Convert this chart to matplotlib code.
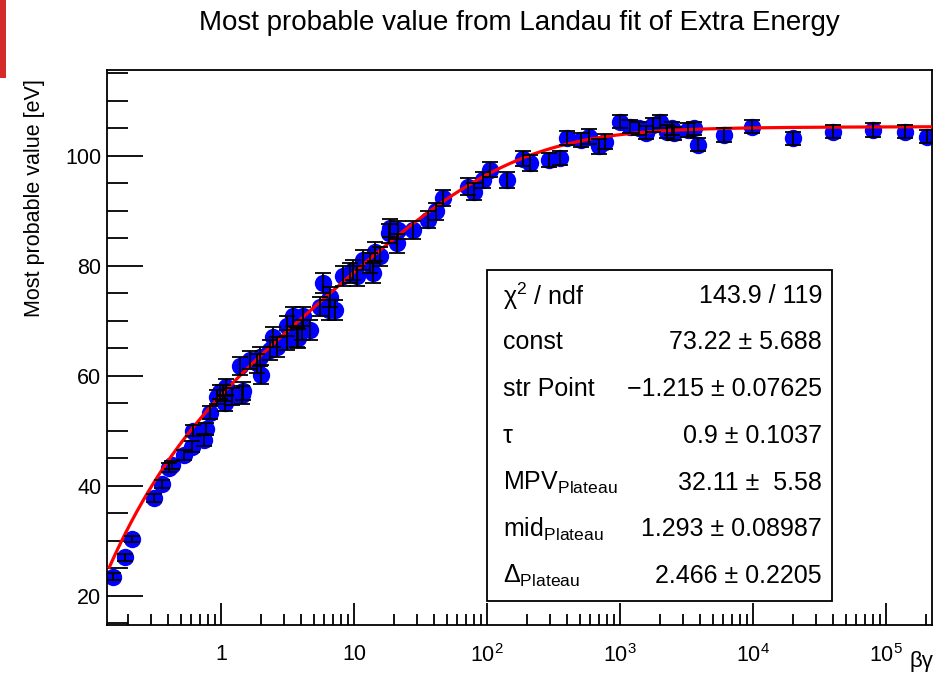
import numpy as np
import matplotlib
matplotlib.use("Agg")
import matplotlib.pyplot as plt
from matplotlib.patches import Rectangle
from matplotlib.ticker import FixedLocator, NullFormatter, FixedFormatter
from math import erf

plt.rcParams['font.family'] = ['Liberation Sans', 'DejaVu Sans']
plt.rcParams['mathtext.fontset'] = 'custom'
plt.rcParams['mathtext.rm'] = 'Liberation Sans'
plt.rcParams['mathtext.it'] = 'Liberation Sans:italic'
plt.rcParams['mathtext.bf'] = 'Liberation Sans:bold'

# ---- measured points: beta*gamma, most probable value [eV], error ----
beta_gamma = [
    0.155, 0.190, 0.213, 0.316, 0.363, 0.407, 0.427, 0.525, 0.603, 0.617,
    0.741, 0.776, 0.826, 0.933, 0.982, 1.04, 1.07, 1.10, 1.20, 1.39,
    1.43, 1.47, 1.65, 1.85, 1.95, 2.00, 2.33, 2.45, 2.63, 3.12,
    3.16, 3.50, 3.72, 3.80, 4.05, 4.17, 4.68, 5.55, 5.89, 6.46,
    6.61, 7.20, 8.32, 9.33, 9.89, 10.5, 11.7, 13.2, 14.0, 14.4,
    15.7, 18.2, 18.6, 20.9, 21.5, 27.9, 36.3, 41.7, 46.8, 72.4,
    79.4, 93.3, 105, 141, 186, 209, 295, 355, 398, 513,
    589, 692, 776, 1000, 1190, 1380, 1580, 1780, 2000, 2240,
    2450, 2570, 3240, 3630, 3890, 6030, 9770, 20000, 40000, 79400,
    138000, 204000,
]
mpv = [
    23.5, 27.0, 30.3, 37.8, 40.3, 43.3, 43.8, 45.6, 47.1, 50.0,
    48.4, 50.3, 53.3, 56.2, 57.1, 56.9, 55.0, 58.0, 56.2, 61.8,
    56.5, 57.2, 62.9, 62.3, 63.5, 60.2, 64.7, 67.1, 65.3, 66.5,
    69.0, 70.8, 67.1, 66.8, 68.4, 70.8, 68.4, 72.6, 76.9, 72.0,
    74.4, 72.0, 78.1, 78.7, 79.3, 78.1, 81.1, 80.5, 78.7, 82.6,
    81.7, 85.9, 86.9, 84.1, 86.5, 86.5, 88.4, 89.9, 92.3, 94.4,
    93.5, 95.6, 97.5, 95.6, 99.5, 98.7, 99.3, 99.6, 103.2, 102.9,
    103.5, 101.7, 102.6, 106.2, 105.3, 105.0, 104.2, 105.6, 106.2, 104.4,
    105.0, 104.1, 104.7, 105.0, 102.0, 103.8, 105.3, 103.2, 104.4, 104.7,
    104.4, 103.5,
]
mpv_err = [
    0.6, 0.6, 0.6, 0.7, 0.7, 0.8, 0.8, 0.9, 1.0, 1.0,
    1.1, 1.1, 1.2, 1.3, 1.3, 1.4, 1.4, 1.4, 1.5, 1.6,
    1.6, 1.6, 1.7, 1.7, 1.7, 1.7, 1.8, 1.8, 1.8, 1.8,
    1.8, 1.8, 1.8, 1.8, 1.8, 1.8, 1.8, 1.8, 1.8, 1.8,
    1.8, 1.8, 1.8, 1.8, 1.8, 1.8, 1.8, 1.8, 1.8, 1.8,
    1.7, 1.7, 1.7, 1.7, 1.7, 1.6, 1.6, 1.6, 1.5, 1.5,
    1.5, 1.5, 1.4, 1.4, 1.4, 1.4, 1.3, 1.3, 1.3, 1.3,
    1.3, 1.3, 1.3, 1.2, 1.2, 1.2, 1.2, 1.2, 1.2, 1.2,
    1.2, 1.2, 1.2, 1.2, 1.2, 1.2, 1.2, 1.2, 1.2, 1.2,
    1.2, 1.2,
]

# ---- fit parameters ----
fit_const = 73.22
fit_start = -1.215
fit_tau = 0.9
fit_mpv_plateau = 32.11
fit_mid_plateau = 1.293
fit_delta_plateau = 2.466

stat_names = ['χ$^{2}$ / ndf', 'const', 'str Point', 'τ',
              r'MPV$_{\mathrm{Plateau}}$', r'mid$_{\mathrm{Plateau}}$',
              r'$\Delta_{\mathrm{Plateau}}$']
stat_values = ['143.9 / 119', '73.22 ± 5.688', '−1.215 ± 0.07625',
               '0.9 ± 0.1037', '32.11 ±  5.58', '1.293 ± 0.08987',
               '2.466 ± 0.2205']

x_major = [1, 10, 100, 1000, 10000, 100000]
x_major_labels = ['1', '10', r'$10^{2}$', r'$10^{3}$', r'$10^{4}$', r'$10^{5}$']
y_major = [20, 40, 60, 80, 100]


def fit_curve(bg):
    t = np.log10(bg)
    rise = fit_const * (1.0 - np.exp(-(t - fit_start) / fit_tau))
    step = np.array([erf(v) for v in (t - fit_mid_plateau) / (fit_delta_plateau / 2.0)])
    return rise + fit_mpv_plateau * 0.5 * (1.0 + step)


W, H = 936, 678
fig = plt.figure(figsize=(W / 100, H / 100), dpi=100)
ax = fig.add_axes([107 / W, 1 - 625 / H, (932 - 107) / W, (625 - 70) / H])

xmin, xmax = 0.139, 2.22e5
ymin, ymax = 14.7, 115.6

ax.plot(beta_gamma, mpv, 'o', color='#0000ff', markersize=12.5,
        markeredgewidth=0, zorder=2)
xx = np.logspace(np.log10(beta_gamma[0]) - 0.03, np.log10(xmax) - 0.005, 600)
ax.plot(xx, fit_curve(xx), color='#ff0000', lw=2.3, zorder=3)
ax.errorbar(beta_gamma, mpv, yerr=mpv_err, fmt='none', ecolor='black',
            elinewidth=1.3, capsize=6, capthick=1.3, zorder=4)

ax.set_xscale('log')
ax.set_xlim(xmin, xmax)
ax.set_ylim(ymin, ymax)

# axis styling
for side in ['top', 'right', 'left', 'bottom']:
    ax.spines[side].set_linewidth(1.3)
ax.tick_params(which='both', direction='in', top=False, right=False,
               width=1.3, colors='black', labelsize=15.5)
ax.tick_params(axis='x', which='major', length=16, pad=14)
ax.tick_params(axis='x', which='minor', length=8)
ax.tick_params(axis='y', which='major', length=26, pad=4)
ax.tick_params(axis='y', which='minor', length=15)

ax.xaxis.set_major_locator(FixedLocator(x_major))
ax.xaxis.set_major_formatter(FixedFormatter(x_major_labels))
x_minor = [m * 10.0 ** e for e in range(-1, 6) for m in range(2, 10)]
ax.xaxis.set_minor_locator(FixedLocator([v for v in x_minor if xmin < v < xmax]))
ax.xaxis.set_minor_formatter(NullFormatter())

ax.yaxis.set_major_locator(FixedLocator(y_major))
ax.yaxis.set_minor_locator(FixedLocator(list(range(15, 116, 5))))

# titles
fig.text(519 / W, 1 - 23 / H, 'Most probable value from Landau fit of Extra Energy',
         ha='center', va='center', fontsize=20)
fig.text(35 / W, 1 - 79 / H, 'Most probable value [eV]', rotation=90,
         ha='center', va='top', fontsize=15.5)
fig.text(933 / W, 1 - 662 / H, 'βγ', ha='right', va='center', fontsize=16)

# statistics box
bx0, by0, bx1, by1 = 487, 270, 832, 601
fig.patches.append(Rectangle((bx0 / W, 1 - by1 / H), (bx1 - bx0) / W, (by1 - by0) / H,
                             transform=fig.transFigure, facecolor='white',
                             edgecolor='black', lw=1.3, zorder=5))
row_y = [296, 342, 389, 436, 483, 529, 576]
for name, val, ry in zip(stat_names, stat_values, row_y):
    fig.text(503 / W, 1 - ry / H, name, ha='left', va='center', fontsize=18, zorder=6)
    fig.text(822 / W, 1 - ry / H, val, ha='right', va='center', fontsize=18, zorder=6)

# red strip at the left edge
fig.patches.append(Rectangle((0, 1 - 78 / H), 6 / W, 78 / H, transform=fig.transFigure,
                             facecolor='#d42a2a', edgecolor='none', zorder=1))

fig.savefig('out.png', dpi=100)
